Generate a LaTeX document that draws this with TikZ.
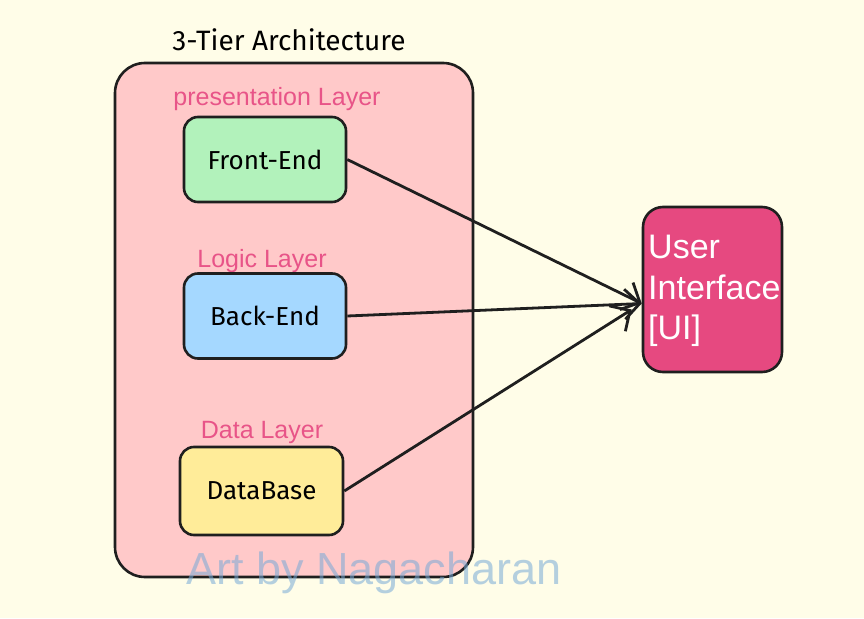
\documentclass[tikz,border=0pt]{standalone}
\usepackage{fontspec}
\setmainfont{Liberation Sans}
\newfontfamily\handfont{Fira Sans}
\usetikzlibrary{arrows.meta}
\definecolor{paper}{RGB}{255,253,232}
\definecolor{tierfill}{RGB}{255,201,201}
\definecolor{fefill}{RGB}{178,242,187}
\definecolor{befill}{RGB}{165,216,255}
\definecolor{dbfill}{RGB}{255,236,153}
\definecolor{uifill}{RGB}{230,73,128}
\definecolor{layerpink}{RGB}{232,84,136}
\definecolor{markblue}{RGB}{120,170,215}
\tikzset{
  sketch/.style={draw=black!88, line width=2.6pt, rounded corners=14pt},
  tierbox/.style={sketch, minimum width=162pt, minimum height=85pt,
    font=\handfont\fontsize{26}{30}\selectfont},
  layerlabel/.style={text=layerpink, font=\fontsize{25}{30}\selectfont},
  link/.style={draw=black!88, line width=2.8pt,
    -{Straight Barb[length=15pt,width=30pt,line width=2.8pt]}}
}
\begin{document}
\begin{tikzpicture}[x=1pt,y=-1pt]
                \fill[paper] (0,0) rectangle (864,618);
                \useasboundingbox (0,0) rectangle (864,618);
                % container
                \node[sketch, fill=tierfill, rounded corners=30pt,
                  minimum width=358pt, minimum height=514pt] (tiers) at (294,320) {};
                \node[font=\handfont\fontsize{28}{32}\selectfont] (title) at (289,40) {3-Tier Architecture};
                % layers
                \node[layerlabel] (preslabel) at (277,99) {presentation Layer};
                \node[tierbox, fill=fefill] (fe) at (265,159.5) {Front-End};
                \node[layerlabel] (logiclabel) at (262,261) {Logic Layer};
                \node[tierbox, fill=befill] (be) at (265,316) {Back-End};
                \node[layerlabel] (datalabel) at (262,432) {Data Layer};
                \node[tierbox, fill=dbfill, minimum width=163pt, minimum height=88pt] (db) at (261.5,491) {DataBase};
                % user interface
                \node[sketch, fill=uifill, rounded corners=20pt,
                  minimum width=139pt, minimum height=165pt] (ui) at (712.5,289.5) {};
                \node[text=white, anchor=north west, align=left, inner sep=0pt,
                  font=\fontsize{34}{40.5}\selectfont] (uitext) at (648,235) {User\\Interface\\{}[UI]};
                \coordinate (uiin) at ([yshift=-14pt]ui.west);
                \coordinate (dbin) at ([xshift=-10pt,yshift=-20pt]ui.west);
                % links
                \draw[link] (fe.east) -- (uiin);
                \draw[link] (be.east) -- (uiin);
                \draw[link] (db.east) -- (dbin);
                % watermark
                \node[text=markblue, text opacity=0.55, font=\fontsize{45}{50}\selectfont] (mark) at (374,573) {Art by Nagacharan};
            \end{tikzpicture}
\end{document}
